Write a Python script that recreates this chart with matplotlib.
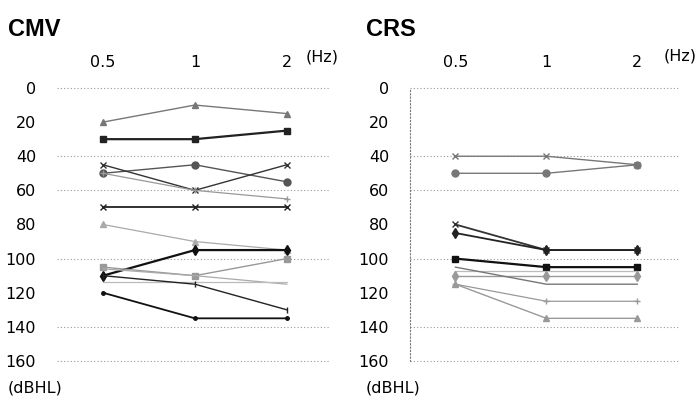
import numpy as np
from matplotlib import pyplot as plt

freqs = ["0.5", "1", "2"]
grid_levels = [0, 40, 60, 100, 140, 160]
y_ticks = [0, 20, 40, 60, 80, 100, 120, 140, 160]

# CMV thresholds (dBHL) at 0.5, 1, 2 kHz
cmv_series = [
    [20, 10, 15],
    [30, 30, 25],
    [50, 45, 55],
    [45, 60, 45],
    [50, 60, 65],
    [70, 70, 70],
    [80, 90, 95],
    [110, 95, 95],
    [105, 110, 100],
    [106, 110, 115],
    [114, 114, 114],
    [110, 115, 130],
    [120, 135, 135],
]
cmv_styles = [
    ("#777777", "^", 1.0),
    ("#222222", "s", 1.6),
    ("#555555", "o", 1.0),
    ("#333333", "x", 1.0),
    ("#999999", "+", 0.9),
    ("#222222", "x", 1.3),
    ("#aaaaaa", "^", 0.9),
    ("#111111", "d", 1.6),
    ("#999999", "s", 1.0),
    ("#aaaaaa", "", 0.9),
    ("#bbbbbb", "", 0.9),
    ("#222222", "|", 1.0),
    ("#111111", ".", 1.3),
]

# CRS thresholds
crs_series = [
    [40, 40, 45],
    [50, 50, 45],
    [80, 95, 95],
    [85, 95, 95],
    [100, 105, 105],
    [107, 107, 107],
    [110, 110, 110],
    [105, 115, 115],
    [115, 125, 125],
    [115, 135, 135],
]
crs_styles = [
    ("#777777", "x", 1.0),
    ("#777777", "o", 1.0),
    ("#333333", "x", 1.3),
    ("#222222", "d", 1.3),
    ("#111111", "s", 1.6),
    ("#bbbbbb", "", 0.9),
    ("#999999", "d", 1.0),
    ("#777777", "", 1.0),
    ("#999999", "+", 0.9),
    ("#999999", "^", 1.0),
]

fig = plt.figure(figsize=(7, 4.01), dpi=100)
plt.rcParams['font.family'] = ['DejaVu Sans']


def draw(ax, series, styles, left_line):
    x = np.arange(len(freqs))
    for lv in grid_levels:
        ax.axhline(lv, color="#999999", lw=0.8, ls=(0, (1, 2)), zorder=0,
                   clip_on=False)
    for vals, (c, m, lw) in zip(series, styles):
        ax.plot(x, vals, color=c, marker=m, lw=lw, ms=5, mew=1.0)
    ax.set_ylim(160, 0)
    ax.set_xlim(-0.5, 2.47)
    ax.set_xticks(x)
    ax.set_xticklabels(freqs)
    ax.set_yticks(y_ticks)
    ax.xaxis.tick_top()
    ax.tick_params(length=0, labelsize=11.5, pad=15)
    ax.tick_params(axis="x", pad=13)
    for s in ax.spines.values():
        s.set_visible(False)
    if left_line:
        ax.spines["left"].set_visible(True)
        ax.spines["left"].set_linestyle((0, (1, 2)))
        ax.spines["left"].set_color("#777777")
        ax.spines["left"].set_linewidth(0.8)


ax1 = fig.add_axes([57 / 700, 0.0998, 273 / 700, 0.6808])
draw(ax1, cmv_series, cmv_styles, False)
ax2 = fig.add_axes([410 / 700, 0.0998, 270 / 700, 0.6808])
draw(ax2, crs_series, crs_styles, True)

fig.text(8 / 700, 1 - 30 / 401, "CMV", fontsize=17, fontweight="bold",
         family="Liberation Sans", va="center")
fig.text(366 / 700, 1 - 30 / 401, "CRS", fontsize=17, fontweight="bold",
         family="Liberation Sans", va="center")
fig.text(306 / 700, 1 - 57 / 401, "(Hz)", fontsize=11.5, va="center")
fig.text(664 / 700, 1 - 56 / 401, "(Hz)", fontsize=11.5, va="center")
fig.text(8 / 700, 1 - 388 / 401, "(dBHL)", fontsize=11.5, va="center")
fig.text(366 / 700, 1 - 388 / 401, "(dBHL)", fontsize=11.5, va="center")

fig.savefig("out.png", dpi=100)
